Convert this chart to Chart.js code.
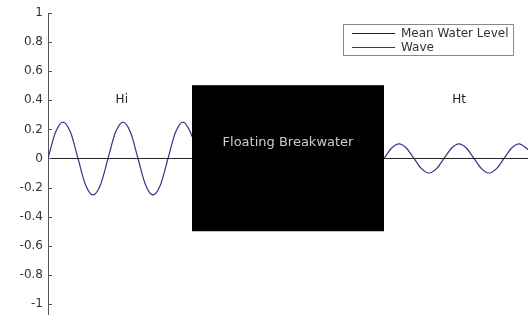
<!DOCTYPE html>
<html>
<head>
<meta charset="utf-8">
<script src="https://cdn.jsdelivr.net/npm/chart.js@4.4.0/dist/chart.umd.min.js"></script>
<style>
  html, body { margin: 0; padding: 0; background: #fff; }
  #chartContainer { width: 528px; height: 315px; }
</style>
</head>
<body>
<div id="chartContainer"><canvas id="myChart"></canvas></div>
<script>
"use strict";

// y axis ticks (ascending, as chart.js expects)
const yTicks = [-1, -0.8, -0.6, -0.4, -0.2, 0, 0.2, 0.4, 0.6, 0.8, 1];
const yTickLabels = ["-1", "-0.8", "-0.6", "-0.4", "-0.2", "0", "0.2", "0.4", "0.6", "0.8", "1"];

// incident wave (left of breakwater)
const waveInX = [0, 0.125, 0.25, 0.375, 0.5, 0.625, 0.75, 0.875, 1, 1.125, 1.25, 1.375, 1.5,
  1.625, 1.75, 1.875, 2, 2.125, 2.25, 2.375, 2.4];
const waveInY = [0, 0.18, 0.25, 0.18, 0, -0.18, -0.25, -0.18, 0, 0.18, 0.25, 0.18, 0,
  -0.18, -0.25, -0.18, 0, 0.18, 0.25, 0.18, 0.15];

// transmitted wave (right of breakwater)
const waveOutX = [5.6, 5.725, 5.85, 5.975, 6.1, 6.225, 6.35, 6.475, 6.6, 6.725, 6.85, 6.975, 7.1,
  7.225, 7.35, 7.475, 7.6, 7.725, 7.85, 7.975, 8];
const waveOutY = [0, 0.07, 0.1, 0.07, 0, -0.07, -0.1, -0.07, 0, 0.07, 0.1, 0.07, 0,
  -0.07, -0.1, -0.07, 0, 0.07, 0.1, 0.07, 0.06];

// mean water level
const levelX = [0, 8];
const levelY = [0, 0];

// floating breakwater
const boxX = [2.4, 5.6];
const boxTop = [0.5, 0.5];
const boxBottom = -0.5;

const notes = [
  { text: "Hi", x: 1.23, y: 0.4, color: "#222" },
  { text: "Ht", x: 6.85, y: 0.4, color: "#222" },
  { text: "Floating Breakwater", x: 4.0, y: 0.11, color: "#ccc" },
];

const WAVE_COLOR = "#33338a";
const LEVEL_COLOR = "#222";

function pairs(xs, ys) {
  return xs.map((x, i) => ({ x: x, y: ys[i] }));
}

const overlay = {
  id: "overlay",
  afterDatasetsDraw(chart) {
    const ctx = chart.ctx;
    const area = chart.chartArea;
    const xs = chart.scales.x;
    const ys = chart.scales.y;
    ctx.save();

    // inward tick marks, matlab style
    ctx.strokeStyle = "#555";
    ctx.lineWidth = 1;
    ys.ticks.forEach(function (t) {
      const py = Math.round(ys.getPixelForValue(t.value)) + 0.5;
      ctx.beginPath();
      ctx.moveTo(area.left, py);
      ctx.lineTo(area.left + 4, py);
      ctx.stroke();
    });

    // text labels
    ctx.textAlign = "center";
    ctx.textBaseline = "middle";
    notes.forEach(function (n) {
      ctx.font = (n.text.length > 3 ? "13px" : "12px") + " 'DejaVu Sans'";
      ctx.fillStyle = n.color;
      ctx.fillText(n.text, xs.getPixelForValue(n.x), ys.getPixelForValue(n.y));
    });

    // legend box
    const items = chart.data.datasets.filter(d => d.inLegend);
    const lx = area.right - 185;
    const ly = area.top + 11;
    const lw = 170;
    const lh = 31;
    ctx.fillStyle = "#fff";
    ctx.fillRect(lx, ly, lw, lh);
    ctx.strokeStyle = "#888";
    ctx.strokeRect(lx + 0.5, ly + 0.5, lw, lh);
    ctx.font = "12px 'DejaVu Sans'";
    ctx.textAlign = "left";
    items.forEach(function (d, i) {
      const rowY = ly + 9.5 + i * 14;
      ctx.strokeStyle = d.borderColor;
      ctx.lineWidth = 1.2;
      ctx.beginPath();
      ctx.moveTo(lx + 9, rowY);
      ctx.lineTo(lx + 52, rowY);
      ctx.stroke();
      ctx.fillStyle = "#333";
      ctx.fillText(d.label, lx + 58, rowY);
    });
    ctx.restore();
  },
};

const chartConfig = {
  type: "line",
  data: {
    datasets: [
      {
        label: "Floating Breakwater",
        data: pairs(boxX, boxTop),
        borderColor: "#000",
        backgroundColor: "#000",
        borderWidth: 1,
        pointRadius: 0,
        fill: { value: boxBottom },
      },
      {
        label: "Mean Water Level",
        inLegend: true,
        data: pairs(levelX, levelY),
        borderColor: LEVEL_COLOR,
        borderWidth: 1,
        pointRadius: 0,
        fill: false,
      },
      {
        label: "Wave",
        inLegend: true,
        data: pairs(waveInX, waveInY),
        borderColor: WAVE_COLOR,
        borderWidth: 1.2,
        pointRadius: 0,
        cubicInterpolationMode: "monotone",
        fill: false,
      },
      {
        label: "Wave (transmitted)",
        data: pairs(waveOutX, waveOutY),
        borderColor: WAVE_COLOR,
        borderWidth: 1.2,
        pointRadius: 0,
        cubicInterpolationMode: "monotone",
        fill: false,
      },
    ],
  },
  options: {
    responsive: true,
    maintainAspectRatio: false,
    animation: false,
    devicePixelRatio: 1,
    layout: { padding: { top: 13, right: 0, bottom: 0, left: 0 } },
    plugins: {
      legend: { display: false },
      tooltip: { enabled: false },
    },
    scales: {
      x: {
        type: "linear",
        display: false,
        min: 0,
        max: 8,
      },
      y: {
        type: "linear",
        min: -1.076,
        max: 1,
        afterFit: function (scale) {
          scale.width = 48;
          scale.paddingTop = 0;
          scale.paddingBottom = 0;
        },
        afterBuildTicks: function (scale) {
          scale.ticks = yTicks.map(v => ({ value: v }));
        },
        grid: { display: false, drawTicks: false },
        border: { display: true, color: "#555", width: 1 },
        ticks: {
          padding: 5,
          color: "#333",
          font: { family: "'DejaVu Sans'", size: 12 },
          callback: function (v) {
            const i = yTicks.indexOf(v);
            return i >= 0 ? yTickLabels[i] : "";
          },
        },
      },
    },
  },
  plugins: [overlay],
};

const canvas = document.getElementById("myChart");
const myChart = new Chart(canvas.getContext("2d"), chartConfig);
</script>
</body>
</html>
